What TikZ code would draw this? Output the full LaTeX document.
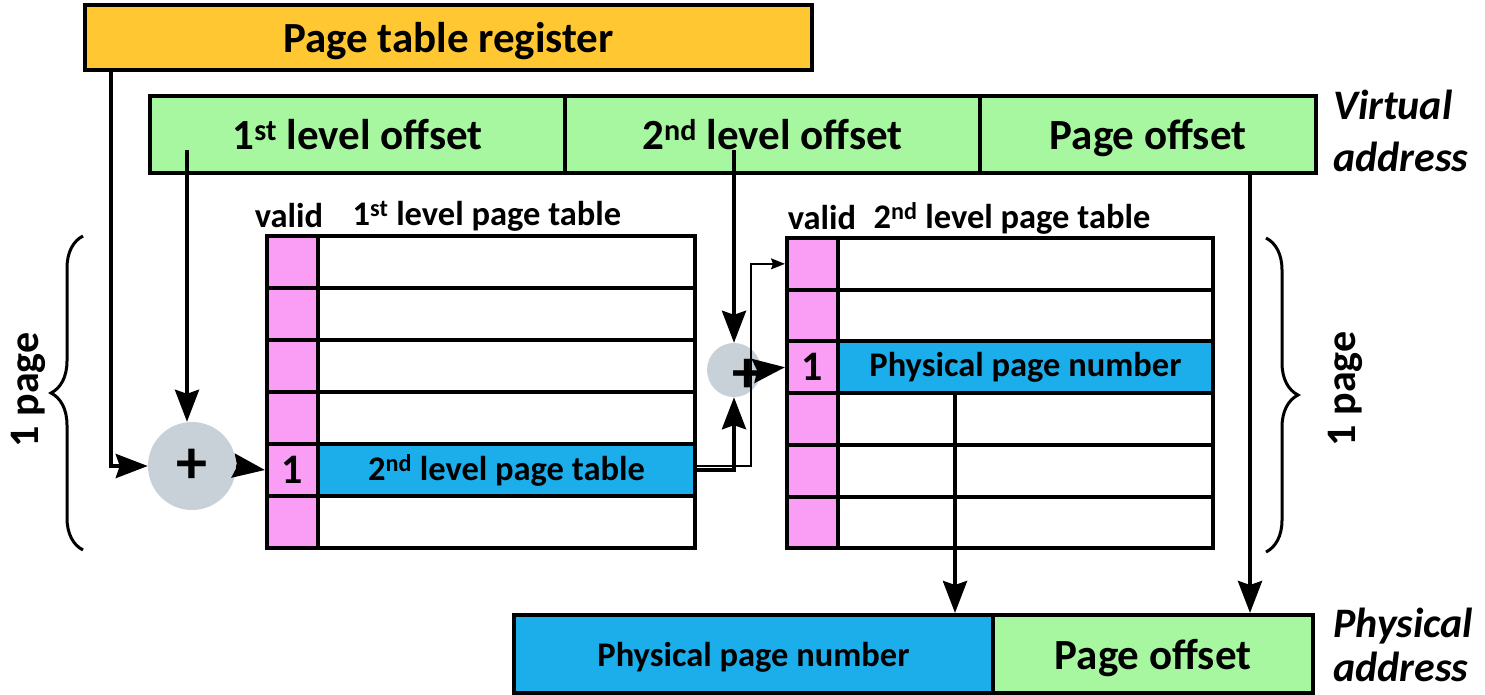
\documentclass[tikz,border=0pt]{standalone}
\usepackage{fontspec}
\setmainfont{Carlito}
\usetikzlibrary{arrows.meta,decorations.pathreplacing,calc}
\definecolor{regorange}{HTML}{FFC832}
\definecolor{addrgreen}{HTML}{A6F7A0}
\definecolor{ppnblue}{HTML}{1CAEEA}
\definecolor{validpink}{HTML}{FA9EF5}
\definecolor{addgray}{HTML}{C8D0D8}
\newcommand\bigfont{\fontsize{43}{51}\selectfont\bfseries}
\newcommand\midfont{\fontsize{34.5}{41}\selectfont\bfseries}
\newcommand\onefont{\fontsize{42}{42}\selectfont\bfseries}
\begin{document}
\begin{tikzpicture}[x=1pt,y=-1pt,
  box/.style={draw, line width=4pt, inner sep=0pt, text depth=0pt, font=\bigfont},
  vcell/.style={draw, line width=4pt, inner sep=0pt, fill=validpink,
    minimum width=51, font=\onefont},
  ecell/.style={draw, line width=4pt, inner sep=0pt, font=\midfont},
  adder/.style={circle, fill=addgray, inner sep=0pt},
  arr/.style={line width=4pt, -{Stealth[length=32pt,width=24pt,inset=4pt]}},
  thinarr/.style={line width=1.5pt, -{Stealth[length=14pt,width=11pt,inset=2pt]}},
  lbl/.style={inner sep=0pt, font=\midfont},
  brc/.style={line width=3pt, decorate, decoration={brace, amplitude=32pt}}]
\useasboundingbox (0,0) rectangle (1485,694);

% page table register
\node[box, fill=regorange, minimum width=727, minimum height=65] (ptr) at (448.5,37.5) {Page table register};

% virtual address fields
\node[box, fill=addrgreen, minimum width=415, minimum height=77] (vo1) at (357.5,134.5) {1\textsuperscript{st} level offset};
\node[box, fill=addrgreen, minimum width=415, minimum height=77] (vo2) at (772.5,134.5) {2\textsuperscript{nd} level offset};
\node[box, fill=addrgreen, minimum width=336, minimum height=77] (vpo) at (1148,134.5) {Page offset};
\node[inner sep=0pt, anchor=west, align=left, font=\fontsize{42}{52}\selectfont\bfseries\itshape] (vlab) at (1333,131) {Virtual\\address};

% first level page table
\node[lbl] (t1vh) at (289,216) {valid};
\node[lbl] (t1h) at (487,216) {1\textsuperscript{st} level page table};
\foreach \i in {1,2,3,4,6} {
  \node[vcell, minimum height=52] (t1v\i) at (292.5,{210+52*\i}) {};
  \node[ecell, minimum width=377, minimum height=52] (t1e\i) at (506.5,{210+52*\i}) {};
}
\node[vcell, minimum height=52] (t1v5) at (292.5,470) {1};
\node[ecell, fill=ppnblue, minimum width=377, minimum height=52] (t1e5) at (506.5,470) {2\textsuperscript{nd} level page table};

% second level page table
\node[lbl] (t2vh) at (822,218) {valid};
\node[lbl] (t2h) at (1012,218) {2\textsuperscript{nd} level page table};
\foreach \i in {1,2,4,5,6} {
  \node[vcell, minimum height=51.7] (t2v\i) at (812.5,{212.15+51.7*\i}) {};
  \node[ecell, minimum width=375, minimum height=51.7] (t2e\i) at (1025.5,{212.15+51.7*\i}) {};
}
\node[vcell, minimum height=51.7] (t2v3) at (812.5,367.25) {1};
\node[ecell, fill=ppnblue, minimum width=375, minimum height=51.7] (t2e3) at (1025.5,367.25) {Physical page number};

% adders
\node[adder, minimum size=88, font=\fontsize{62}{62}\selectfont\bfseries] (c1) at (192,466) {+};
\node[adder, minimum size=54] (c2) at (734,370) {};
\node[inner sep=0pt, font=\fontsize{60}{60}\selectfont\bfseries] (p2) at (747,376) {+};

% physical address fields
\node[box, fill=ppnblue, minimum width=479, minimum height=78, font=\midfont] (pa1) at (753.5,654) {Physical page number};
\node[box, fill=addrgreen, minimum width=320, minimum height=78] (pa2) at (1153,654) {Page offset};
\node[inner sep=0pt, anchor=west, align=left, font=\fontsize{42}{44}\selectfont\bfseries\itshape] (plab) at (1333,645) {Physical\\address};

% page braces
\draw[brc] (83,550) -- (83,236);
\node[inner sep=0pt, rotate=90, font=\fontsize{42}{49}\selectfont\bfseries] (lp) at (28,390) {1 page};
\draw[brc] (1266,238) -- (1266,552);
\node[inner sep=0pt, rotate=90, font=\fontsize{42}{49}\selectfont\bfseries] (rp) at (1345,389) {1 page};

% connectors
\coordinate (r0) at (111,70);
\draw[arr] (r0) |- (c1.west);
\coordinate (a1) at (187,150);
\draw[arr] (a1) -- (c1.north -| a1);
\draw[arr] (c1.east) -- (t1v5.west);
\coordinate (a2) at (734,150);
\draw[arr] (a2) -- (c2.north);
\draw[arr] (t1e5.east) -| (c2.south);
\draw[thinarr] ([yshift=4pt]t1e5.east) -| ([xshift=-34pt]t2v1.west) -- (t2v1.west);
\draw[arr] (c2.east) -- (t2v3.west);
\coordinate (a3) at (955,394);
\draw[arr] (a3) -- (pa1.north -| a3);
\coordinate (a4) at (1250,173);
\draw[arr] (a4) -- (pa2.north -| a4);
\end{tikzpicture}
\end{document}
